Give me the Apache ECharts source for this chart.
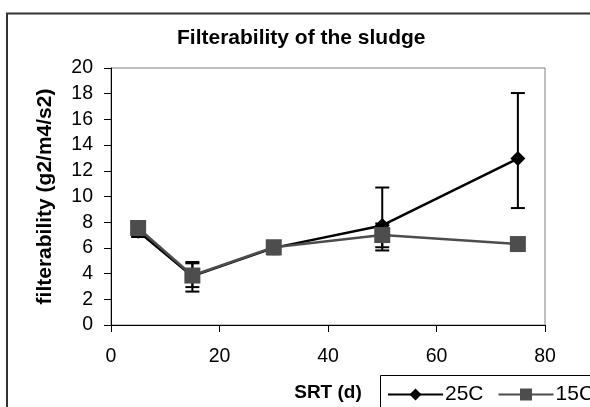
<!DOCTYPE html>
<html>
<head>
<meta charset="utf-8">
<script src="https://cdn.jsdelivr.net/npm/echarts@6/dist/echarts.min.js"></script>
<style>
  html, body { margin: 0; padding: 0; background: #fff; }
  #chart { width: 590px; height: 407px; }
</style>
</head>
<body>
<div id="chart"></div>
<script>
// SRT (d) on the x axis
const srt = [5, 15, 30, 50, 75]
// filterability means
const f25 = [7.3, 3.8, 6.0, 7.75, 12.95]
const f15 = [7.55, 3.85, 6.05, 7.0, 6.3]
// error bar ends
const f25Low = [6.85, 2.6, 5.5, 5.8, 9.1]
const f25High = [7.75, 4.9, 6.5, 10.7, 18.05]
const f15Low = [7.2, 2.95, 5.7, 6.05, 6.0]
const f15High = [7.9, 4.8, 6.4, 7.9, 6.6]

const FONT = 'Liberation Sans, Arial, sans-serif'

function pairs(xs, ys) {
  return xs.map((x, i) => [x, ys[i]])
}

// !error bar: vertical line + two caps
function errorBars(low, high) {
  return {
    type: 'custom',
    z: 1,
    silent: true,
    data: srt.map((x, i) => [x, low[i], high[i]]),
    renderItem(params, api) {
      const lo = api.coord([api.value(0), api.value(1)])
      const hi = api.coord([api.value(0), api.value(2)])
      const w = 7
      const style = { stroke: '#000', lineWidth: 2 }
      return {
        type: 'group',
        children: [
          { type: 'line', shape: { x1: lo[0], y1: lo[1], x2: hi[0], y2: hi[1] }, style },
          { type: 'line', shape: { x1: lo[0] - w, y1: lo[1], x2: lo[0] + w, y2: lo[1] }, style },
          { type: 'line', shape: { x1: hi[0] - w, y1: hi[1], x2: hi[0] + w, y2: hi[1] }, style }
        ]
      }
    }
  }
}

const chart = echarts.init(document.getElementById('chart'))
chart.setOption({
  animation: false,
  backgroundColor: '#fff',
  textStyle: { fontFamily: FONT },
  title: {
    text: 'Filterability of the sludge',
    left: 172,
    top: 23,
    textStyle: { fontFamily: FONT, fontSize: 21, fontWeight: 'bold', color: '#000' }
  },
  grid: {
    left: 111,
    right: 45,
    top: 68,
    bottom: 80,
    show: true,
    borderColor: '#808080',
    borderWidth: 1
  },
  legend: {
    left: 387,
    top: 384,
    width: 400,
    itemWidth: 55,
    itemHeight: 15,
    itemGap: 14,
    padding: 0,
    textStyle: { fontFamily: FONT, fontSize: 21, color: '#000', padding: [0, 0, 0, -3] },
    data: ['25C', '15C']
  },
  xAxis: {
    type: 'value',
    min: 0,
    max: 80,
    interval: 20,
    name: 'SRT (d)',
    nameLocation: 'middle',
    nameGap: 58,
    nameTextStyle: { fontFamily: FONT, fontSize: 19, fontWeight: 'bold', color: '#000' },
    splitLine: { show: false },
    axisLine: { lineStyle: { color: '#000', width: 1 } },
    axisTick: { length: 7, lineStyle: { color: '#000' } },
    axisLabel: { margin: 22, fontSize: 19.5, color: '#000', fontFamily: FONT }
  },
  yAxis: {
    type: 'value',
    min: 0,
    max: 20,
    interval: 2,
    name: 'filterability (g2/m4/s2)',
    nameLocation: 'middle',
    nameGap: 55,
    nameTextStyle: { fontFamily: FONT, fontSize: 21, fontWeight: 'bold', color: '#000' },
    splitLine: { show: false },
    axisLine: { show: true, lineStyle: { color: '#000', width: 1 } },
    axisTick: { show: true, length: 7, lineStyle: { color: '#000' } },
    axisLabel: { margin: 18, fontSize: 19.5, color: '#000', fontFamily: FONT }
  },
  graphic: [
    // outer chart frame (runs off the canvas on right/bottom)
    { type: 'rect', shape: { x: 7, y: 13.5, width: 700, height: 500 }, style: { fill: 'none', stroke: '#333', lineWidth: 2 }, z: 0 },
    // legend frame
    { type: 'rect', shape: { x: 380.5, y: 375.5, width: 300, height: 100 }, style: { fill: 'none', stroke: '#000', lineWidth: 1 }, z: 0 }
  ],
  series: [
    errorBars(f25Low, f25High),
    errorBars(f15Low, f15High),
    {
      name: '25C',
      type: 'line',
      z: 2,
      data: pairs(srt, f25),
      symbol: 'diamond',
      symbolSize: [15, 15],
      lineStyle: { color: '#000', width: 2.5 },
      itemStyle: { color: '#000' }
    },
    {
      name: '15C',
      type: 'line',
      z: 3,
      data: pairs(srt, f15),
      symbol: 'rect',
      symbolSize: 16,
      lineStyle: { color: '#4d4d4d', width: 2.5 },
      itemStyle: { color: '#4d4d4d' }
    }
  ]
})
</script>
</body>
</html>
